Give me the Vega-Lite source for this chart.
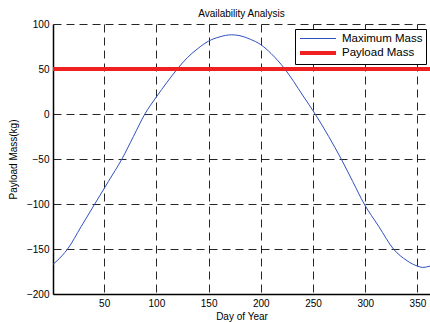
{
  "$schema": "https://vega.github.io/schema/vega-lite/v6.json",
  "width": 377,
  "height": 270,
  "autosize": {"type": "none"},
  "padding": {"left": 53, "top": 24, "right": 0, "bottom": 28},
  "background": "white",
  "config": {
    "font": "Liberation Sans",
    "view": {"stroke": null},
    "axis": {
      "labelFont": "Liberation Sans",
      "titleFont": "Liberation Sans",
      "labelFontSize": 10,
      "titleFontSize": 10,
      "titleFontWeight": "normal",
      "labelColor": "#000000",
      "titleColor": "#000000",
      "gridColor": "#000000",
      "gridDash": [8, 5],
      "gridWidth": 1,
      "gridOpacity": 0.85,
      "domainColor": "#000000",
      "domainWidth": 1.5,
      "ticks": false,
      "labelPadding": 4
    }
  },
  "title": {
    "text": "Availability Analysis",
    "fontSize": 10,
    "fontWeight": "normal",
    "font": "Liberation Sans",
    "color": "#000000",
    "offset": 0,
    "anchor": "middle"
  },
  "data": {
    "values": [
      {"day": 1, "mass": -167, "series": "Maximum Mass"},
      {"day": 5, "mass": -163, "series": "Maximum Mass"},
      {"day": 10, "mass": -157, "series": "Maximum Mass"},
      {"day": 15, "mass": -150, "series": "Maximum Mass"},
      {"day": 28, "mass": -125, "series": "Maximum Mass"},
      {"day": 41, "mass": -100, "series": "Maximum Mass"},
      {"day": 54, "mass": -75, "series": "Maximum Mass"},
      {"day": 67, "mass": -50, "series": "Maximum Mass"},
      {"day": 78, "mass": -25, "series": "Maximum Mass"},
      {"day": 89, "mass": 0, "series": "Maximum Mass"},
      {"day": 100, "mass": 19, "series": "Maximum Mass"},
      {"day": 110, "mass": 35, "series": "Maximum Mass"},
      {"day": 120, "mass": 50, "series": "Maximum Mass"},
      {"day": 130, "mass": 63, "series": "Maximum Mass"},
      {"day": 140, "mass": 73, "series": "Maximum Mass"},
      {"day": 150, "mass": 81, "series": "Maximum Mass"},
      {"day": 160, "mass": 85.5, "series": "Maximum Mass"},
      {"day": 172, "mass": 88, "series": "Maximum Mass"},
      {"day": 180, "mass": 87, "series": "Maximum Mass"},
      {"day": 190, "mass": 83, "series": "Maximum Mass"},
      {"day": 200, "mass": 77, "series": "Maximum Mass"},
      {"day": 210, "mass": 67, "series": "Maximum Mass"},
      {"day": 223, "mass": 50, "series": "Maximum Mass"},
      {"day": 240, "mass": 21, "series": "Maximum Mass"},
      {"day": 252, "mass": 0, "series": "Maximum Mass"},
      {"day": 265, "mass": -25, "series": "Maximum Mass"},
      {"day": 277, "mass": -50, "series": "Maximum Mass"},
      {"day": 288, "mass": -75, "series": "Maximum Mass"},
      {"day": 299, "mass": -100, "series": "Maximum Mass"},
      {"day": 313, "mass": -125, "series": "Maximum Mass"},
      {"day": 327, "mass": -150, "series": "Maximum Mass"},
      {"day": 340, "mass": -163, "series": "Maximum Mass"},
      {"day": 350, "mass": -169, "series": "Maximum Mass"},
      {"day": 355, "mass": -170.5, "series": "Maximum Mass"},
      {"day": 362, "mass": -169, "series": "Maximum Mass"},
      {"day": 1, "mass": 50, "series": "Payload Mass"},
      {"day": 362, "mass": 50, "series": "Payload Mass"}
    ]
  },
  "mark": {"type": "line", "clip": true, "interpolate": "monotone"},
  "encoding": {
    "x": {
      "field": "day",
      "type": "quantitative",
      "title": "Day of Year",
      "scale": {"domain": [1, 362], "nice": false, "zero": false},
      "axis": {"values": [50, 100, 150, 200, 250, 300, 350], "titlePadding": 3}
    },
    "y": {
      "field": "mass",
      "type": "quantitative",
      "title": "Payload Mass(kg)",
      "scale": {"domain": [-200, 100], "nice": false},
      "axis": {"values": [-200, -150, -100, -50, 0, 50, 100], "titlePadding": 8}
    },
    "color": {
      "field": "series",
      "type": "nominal",
      "scale": {"domain": ["Maximum Mass", "Payload Mass"], "range": ["#3050c0", "#ee2020"]},
      "legend": {
        "title": null,
        "orient": "none",
        "legendX": 242,
        "legendY": 5,
        "direction": "vertical",
        "symbolType": "M-1,0H5",
        "symbolSize": 144,
        "symbolStrokeWidth": 1.5,
        "labelFontSize": 11.5,
        "labelFont": "Liberation Sans",
        "labelColor": "#000000",
        "fillColor": "white",
        "strokeColor": "#000000",
        "padding": 3,
        "rowPadding": 1,
        "labelOffset": 28
      }
    },
    "strokeWidth": {
      "field": "series",
      "type": "nominal",
      "scale": {"domain": ["Maximum Mass", "Payload Mass"], "range": [1, 4]},
      "legend": null
    }
  }
}
